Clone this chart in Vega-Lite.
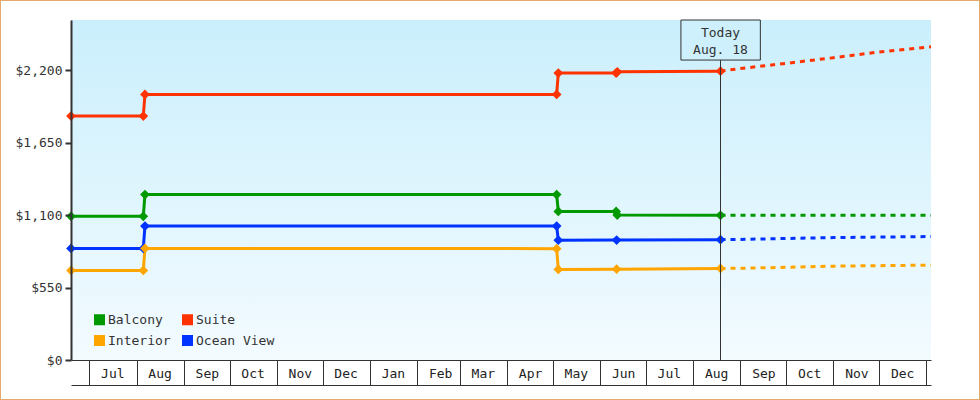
{
  "$schema": "https://vega.github.io/schema/vega-lite/v6.json",
  "width": 980,
  "height": 400,
  "autosize": "none",
  "padding": 0,
  "background": "white",
  "config": {
    "view": {"stroke": "#e8aa6a", "strokeWidth": 2, "fill": "white"},
    "font": "DejaVu Sans Mono",
    "text": {"font": "DejaVu Sans Mono"}
  },
  "datasets": {
    "prices": [
      {"cabin": "Suite", "phase": "actual", "date": "2013-06-19T00:00:00Z", "price": 1851},
      {"cabin": "Suite", "phase": "actual", "date": "2013-08-05T10:00:00Z", "price": 1851},
      {"cabin": "Suite", "phase": "actual", "date": "2013-08-06T12:00:00Z", "price": 2015},
      {"cabin": "Suite", "phase": "actual", "date": "2014-05-03T12:00:00Z", "price": 2015},
      {"cabin": "Suite", "phase": "actual", "date": "2014-05-04T14:00:00Z", "price": 2177},
      {"cabin": "Suite", "phase": "actual", "date": "2014-06-11T12:00:00Z", "price": 2177},
      {"cabin": "Suite", "phase": "actual", "date": "2014-06-12T06:00:00Z", "price": 2187},
      {"cabin": "Suite", "phase": "actual", "date": "2014-08-18T23:00:00Z", "price": 2192},
      {"cabin": "Balcony", "phase": "actual", "date": "2013-06-19T00:00:00Z", "price": 1090},
      {"cabin": "Balcony", "phase": "actual", "date": "2013-08-05T10:00:00Z", "price": 1090},
      {"cabin": "Balcony", "phase": "actual", "date": "2013-08-06T12:00:00Z", "price": 1255},
      {"cabin": "Balcony", "phase": "actual", "date": "2014-05-03T12:00:00Z", "price": 1255},
      {"cabin": "Balcony", "phase": "actual", "date": "2014-05-04T14:00:00Z", "price": 1127},
      {"cabin": "Balcony", "phase": "actual", "date": "2014-06-11T12:00:00Z", "price": 1127},
      {"cabin": "Balcony", "phase": "actual", "date": "2014-06-12T06:00:00Z", "price": 1100},
      {"cabin": "Balcony", "phase": "actual", "date": "2014-08-18T23:00:00Z", "price": 1098},
      {"cabin": "Ocean View", "phase": "actual", "date": "2013-06-19T00:00:00Z", "price": 847},
      {"cabin": "Ocean View", "phase": "actual", "date": "2013-08-05T10:00:00Z", "price": 847},
      {"cabin": "Ocean View", "phase": "actual", "date": "2013-08-06T12:00:00Z", "price": 1016},
      {"cabin": "Ocean View", "phase": "actual", "date": "2014-05-03T12:00:00Z", "price": 1016},
      {"cabin": "Ocean View", "phase": "actual", "date": "2014-05-04T14:00:00Z", "price": 909},
      {"cabin": "Ocean View", "phase": "actual", "date": "2014-06-11T20:00:00Z", "price": 910},
      {"cabin": "Ocean View", "phase": "actual", "date": "2014-08-18T23:00:00Z", "price": 913},
      {"cabin": "Interior", "phase": "actual", "date": "2013-06-19T00:00:00Z", "price": 680},
      {"cabin": "Interior", "phase": "actual", "date": "2013-08-05T10:00:00Z", "price": 680},
      {"cabin": "Interior", "phase": "actual", "date": "2013-08-06T12:00:00Z", "price": 847},
      {"cabin": "Interior", "phase": "actual", "date": "2014-05-03T12:00:00Z", "price": 845},
      {"cabin": "Interior", "phase": "actual", "date": "2014-05-04T14:00:00Z", "price": 687},
      {"cabin": "Interior", "phase": "actual", "date": "2014-06-11T20:00:00Z", "price": 689},
      {"cabin": "Interior", "phase": "actual", "date": "2014-08-18T23:00:00Z", "price": 695},
      {"cabin": "Suite", "phase": "forecast", "date": "2014-08-18T23:00:00Z", "price": 2192},
      {"cabin": "Suite", "phase": "forecast", "date": "2014-09-01T00:00:00Z", "price": 2212},
      {"cabin": "Suite", "phase": "forecast", "date": "2014-10-01T00:00:00Z", "price": 2251},
      {"cabin": "Suite", "phase": "forecast", "date": "2014-11-01T00:00:00Z", "price": 2294},
      {"cabin": "Suite", "phase": "forecast", "date": "2014-12-01T00:00:00Z", "price": 2337},
      {"cabin": "Suite", "phase": "forecast", "date": "2015-01-04T00:00:00Z", "price": 2377},
      {"cabin": "Balcony", "phase": "forecast", "date": "2014-08-18T23:00:00Z", "price": 1098},
      {"cabin": "Balcony", "phase": "forecast", "date": "2014-10-01T00:00:00Z", "price": 1098},
      {"cabin": "Balcony", "phase": "forecast", "date": "2015-01-04T00:00:00Z", "price": 1098},
      {"cabin": "Ocean View", "phase": "forecast", "date": "2014-08-18T23:00:00Z", "price": 913},
      {"cabin": "Ocean View", "phase": "forecast", "date": "2014-09-01T00:00:00Z", "price": 915},
      {"cabin": "Ocean View", "phase": "forecast", "date": "2014-10-01T00:00:00Z", "price": 922},
      {"cabin": "Ocean View", "phase": "forecast", "date": "2014-11-01T00:00:00Z", "price": 929},
      {"cabin": "Ocean View", "phase": "forecast", "date": "2014-12-01T00:00:00Z", "price": 933},
      {"cabin": "Ocean View", "phase": "forecast", "date": "2015-01-04T00:00:00Z", "price": 937},
      {"cabin": "Interior", "phase": "forecast", "date": "2014-08-18T23:00:00Z", "price": 695},
      {"cabin": "Interior", "phase": "forecast", "date": "2014-09-01T00:00:00Z", "price": 696},
      {"cabin": "Interior", "phase": "forecast", "date": "2014-10-01T00:00:00Z", "price": 703},
      {"cabin": "Interior", "phase": "forecast", "date": "2014-11-01T00:00:00Z", "price": 712},
      {"cabin": "Interior", "phase": "forecast", "date": "2014-12-01T00:00:00Z", "price": 716},
      {"cabin": "Interior", "phase": "forecast", "date": "2015-01-04T00:00:00Z", "price": 720}
    ],
    "single": [{"label": "today"}]
  },
  "resolve": {"axis": {"x": "independent", "y": "independent"}, "legend": {"color": "independent"}},
  "layer": [
    {
      "data": {"name": "single"},
      "mark": {
        "type": "rect",
        "fill": {
          "gradient": "linear",
          "x1": 0, "y1": 0, "x2": 0, "y2": 1,
          "stops": [
            {"offset": 0, "color": "#caeffc"},
            {"offset": 1, "color": "#f3fbff"}
          ]
        }
      },
      "encoding": {
        "x": {
          "datum": {"year": 2013, "month": 6, "date": 19, "utc": true},
          "type": "temporal",
          "scale": {
            "type": "utc",
            "domain": [
              {"year": 2013, "month": 6, "date": 19, "utc": true},
              {"year": 2015, "month": 1, "date": 4, "utc": true}
            ],
            "range": [71, 931]
          },
          "axis": null
        },
        "x2": {"datum": {"year": 2015, "month": 1, "date": 4, "utc": true}},
        "y": {
          "datum": 0,
          "type": "quantitative",
          "scale": {"domain": [0, 2580], "range": [360, 20], "nice": false, "zero": true},
          "axis": null
        },
        "y2": {"datum": 2580}
      }
    },
    {
      "data": {"name": "prices"},
      "transform": [{"filter": "datum.phase === 'actual'"}],
      "mark": {"type": "line", "strokeWidth": 3, "interpolate": "linear"},
      "encoding": {
        "x": {
          "field": "date",
          "type": "temporal",
          "axis": {
            "orient": "bottom",
            "offset": -40,
            "title": null,
            "grid": false,
            "zindex": 2,
            "domain": true,
            "domainColor": "#333333",
            "domainWidth": 1,
            "ticks": true,
            "tickCount": "month",
            "tickSize": 25,
            "tickColor": "#333333",
            "tickWidth": 1,
            "labelExpr": "utcyear(datum.value) === 2015 ? '' : utcFormat(datum.value, '%b')",
            "labelOffset": 23,
            "labelPadding": -12,
            "labelBaseline": "middle",
            "labelFlush": false,
            "labelOverlap": false,
            "labelBound": false,
            "labelFont": "DejaVu Sans Mono",
            "labelFontSize": 13,
            "labelColor": "#222222"
          }
        },
        "y": {
          "field": "price",
          "type": "quantitative",
          "axis": {
            "orient": "left",
            "offset": -71,
            "title": null,
            "grid": false,
            "zindex": 2,
            "values": [0, 550, 1100, 1650, 2200],
            "format": "$,.0f",
            "domainColor": "#333333",
            "domainWidth": 2,
            "tickColor": "#333333",
            "tickWidth": 2,
            "tickSize": 6,
            "labelPadding": 3,
            "labelFont": "DejaVu Sans Mono",
            "labelFontSize": 13,
            "labelColor": "#333333"
          }
        },
        "color": {
          "field": "cabin",
          "type": "nominal",
          "scale": {
            "domain": ["Balcony", "Suite", "Interior", "Ocean View"],
            "range": ["#009900", "#ff3300", "#ffa500", "#0033ff"]
          },
          "legend": null
        }
      }
    },
    {
      "data": {"name": "prices"},
      "transform": [{"filter": "datum.phase === 'forecast'"}],
      "mark": {"type": "line", "strokeWidth": 3, "strokeDash": [5, 5]},
      "encoding": {
        "x": {
          "field": "date",
          "type": "temporal",
          "axis": {
            "orient": "bottom",
            "offset": -15,
            "title": null,
            "grid": false,
            "zindex": 2,
            "domain": true,
            "domainColor": "#333333",
            "domainWidth": 1,
            "ticks": false,
            "labels": false
          }
        },
        "y": {"field": "price", "type": "quantitative", "axis": null},
        "color": {"field": "cabin", "type": "nominal", "legend": null}
      }
    },
    {
      "data": {"name": "prices"},
      "transform": [{"filter": "datum.phase === 'actual'"}],
      "mark": {"type": "point", "shape": "diamond", "filled": true, "size": 95, "opacity": 1},
      "encoding": {
        "x": {"field": "date", "type": "temporal", "axis": null},
        "y": {"field": "price", "type": "quantitative", "axis": null},
        "color": {
          "field": "cabin",
          "type": "nominal",
          "legend": {
            "orient": "none",
            "direction": "horizontal",
            "legendX": 93,
            "legendY": 313,
            "title": null,
            "columns": 2,
            "columnPadding": 10,
            "rowPadding": 7,
            "padding": 0,
            "symbolType": "square",
            "symbolSize": 121,
            "symbolStrokeWidth": 0,
            "symbolOpacity": 1,
            "labelOffset": 2,
            "labelFont": "DejaVu Sans Mono",
            "labelFontSize": 13,
            "labelColor": "#333333"
          }
        }
      }
    },
    {
      "data": {"name": "single"},
      "mark": {"type": "rule", "color": "#333333", "strokeWidth": 1},
      "encoding": {
        "x": {"datum": {"year": 2014, "month": 8, "date": 18, "hours": 23, "utc": true}, "type": "temporal", "axis": null},
        "y": {"datum": 2276, "type": "quantitative", "axis": null},
        "y2": {"datum": 0}
      }
    },
    {
      "data": {"name": "single"},
      "mark": {"type": "rect", "fill": "#cdf0fc", "stroke": "#333333", "strokeWidth": 1},
      "encoding": {
        "x": {"datum": {"year": 2014, "month": 7, "date": 24, "utc": true}, "type": "temporal", "axis": null},
        "x2": {"datum": {"year": 2014, "month": 9, "date": 14, "hours": 2, "utc": true}},
        "y": {"datum": 2580, "type": "quantitative", "axis": null},
        "y2": {"datum": 2276}
      }
    },
    {
      "data": {"name": "single"},
      "mark": {
        "type": "text",
        "text": ["Today", "Aug. 18"],
        "align": "center",
        "baseline": "middle",
        "lineHeight": 17,
        "font": "DejaVu Sans Mono",
        "fontSize": 13,
        "color": "#333333"
      },
      "encoding": {
        "x": {"datum": {"year": 2014, "month": 8, "date": 18, "hours": 23, "utc": true}, "type": "temporal", "axis": null},
        "y": {"datum": 2484, "type": "quantitative", "axis": null}
      }
    }
  ]
}
